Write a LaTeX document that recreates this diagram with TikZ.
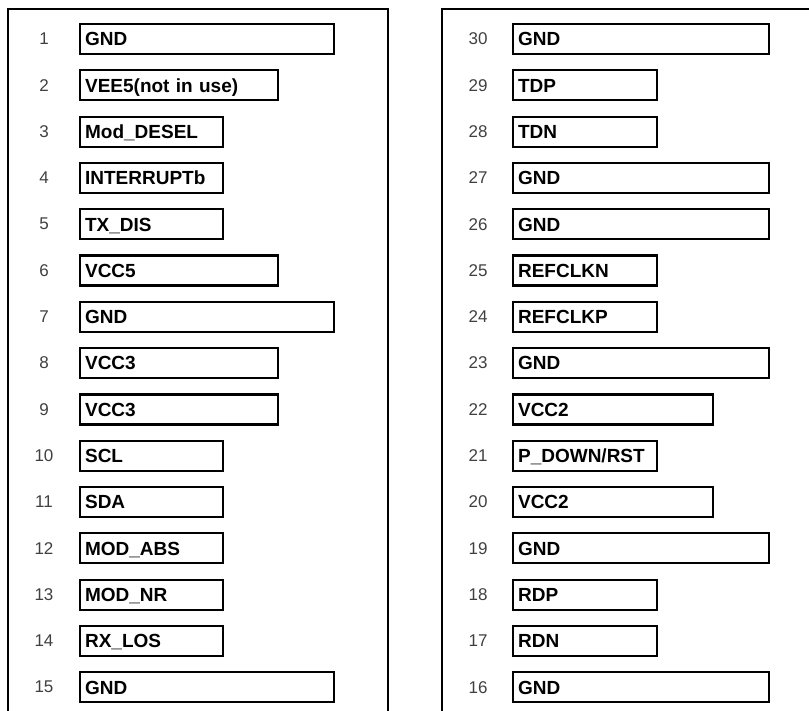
\documentclass[tikz,border=0pt]{standalone}
\usepackage{fontspec}
\setmainfont{Liberation Sans}
\tikzset{
    pinbox/.style={draw, line width=2.2pt, rectangle, anchor=west,
        minimum height=30pt, inner xsep=5pt, inner ysep=0pt, align=left,
        text height=13.6pt, text depth=0pt,
        font=\fontsize{19}{20}\selectfont\bfseries},
    pinnum/.style={font=\fontsize{17}{18}\selectfont, text=black!75},
    frame/.style={line width=2pt}
}
\begin{document}
\begin{tikzpicture}[x=1pt, y=-1pt]
    \useasboundingbox (0,0) rectangle (809,710);

    % Outlines of the two rows
    \draw[frame] (8,720) -- (8,9) -- (388,9) -- (388,720);
    \draw[frame] (442,720) -- (442,9) -- (820,9);

    % Left row, pins 1 to 15
    \foreach \n/\t/\w in {
        1/GND/254, 2/VEE5(not in use)/198, 3/Mod\_DESEL/143,
        4/INTERRUPTb/143, 5/TX\_DIS/143, 6/VCC5/198, 7/GND/254,
        8/VCC3/198, 9/VCC3/198, 10/SCL/143, 11/SDA/143,
        12/MOD\_ABS/143, 13/MOD\_NR/143, 14/RX\_LOS/143, 15/GND/254}{
        \pgfmathsetmacro{\ypos}{39+(\n-1)*46.3}
        \pgfmathsetmacro{\tw}{\w-10}
        \node[pinnum] (num\n) at (44,\ypos) {\n};
        \node[pinbox, minimum width=\w pt, text width=\tw pt]
            (pin\n) at (79,\ypos) {\t};
    }

    % Right row, pins 30 down to 16
    \foreach \n/\t/\w in {
        30/GND/256, 29/TDP/144, 28/TDN/144, 27/GND/256, 26/GND/256,
        25/REFCLKN/144, 24/REFCLKP/144, 23/GND/256, 22/VCC2/200,
        21/{P\_DOWN/RST}/144, 20/VCC2/200, 19/GND/256,
        18/RDP/144, 17/RDN/144, 16/GND/256}{
        \pgfmathsetmacro{\ypos}{39+(30-\n)*46.3}
        \pgfmathsetmacro{\tw}{\w-10}
        \node[pinnum] (num\n) at (478,\ypos) {\n};
        \node[pinbox, minimum width=\w pt, text width=\tw pt]
            (pin\n) at (512,\ypos) {\t};
    }

\end{tikzpicture}
\end{document}
